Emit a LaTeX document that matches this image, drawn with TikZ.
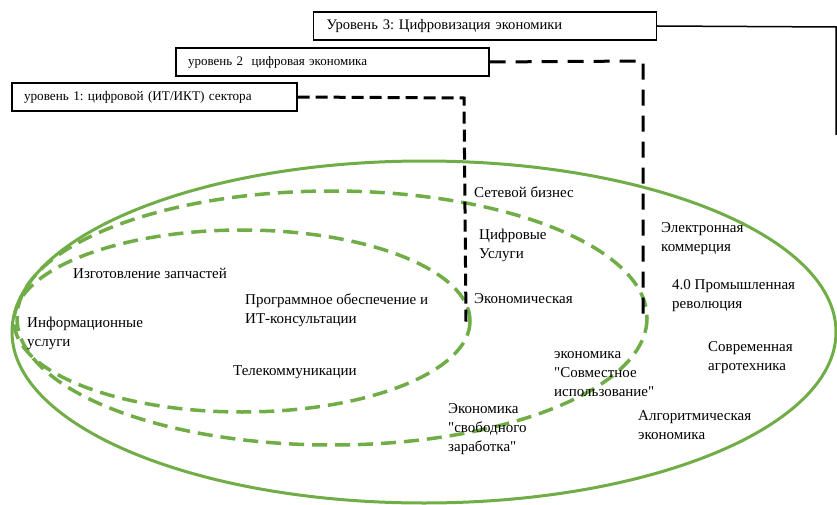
\documentclass[tikz,border=0pt]{standalone}
\usepackage{fontspec}
\setmainfont{Liberation Serif}[Ligatures=TeXOff]
\frenchspacing
\definecolor{vgreen}{RGB}{112,173,71}
\begin{document}
\begin{tikzpicture}[x=1pt,y=-1pt,
  lvlbox/.style={draw=black, line width=1.3pt, rectangle, minimum height=28pt, inner xsep=12pt, inner ysep=0pt, align=left},
  lbl/.style={anchor=west, align=left, inner sep=0pt, font=\fontsize{15}{19}\selectfont},
  gsolid/.style={draw=vgreen, line width=3pt},
  gdash/.style={draw=vgreen, line width=3.5pt, dash pattern=on 15pt off 8pt},
  kdashA/.style={draw=black, line width=3pt, dash pattern=on 12pt off 6pt},
  kdashB/.style={draw=black, line width=3pt, dash pattern=on 16pt off 10pt},
  ksolid/.style={draw=black, line width=1.5pt}
]
\useasboundingbox (0,0) rectangle (837,505);

% ellipses
\draw[gsolid] (424,332) ellipse [x radius=412, y radius=171];
\draw[gdash] (332,318) ellipse [x radius=315, y radius=127];
\draw[gdash] (242,321) ellipse [x radius=228, y radius=91];

% level boxes
\node[lvlbox, text width=317pt, inner xsep=13pt, font=\fontsize{14.6}{16}\selectfont] (b3) at (485,26) {Уровень 3: Цифровизация экономики};
\node[lvlbox, text width=289pt, font=\fontsize{13}{15}\selectfont] (b2) at (332.5,62) {уровень 2\ \ цифровая экономика};
\node[lvlbox, text width=261pt, font=\fontsize{13.2}{15}\selectfont] (b1) at (154.5,97) {уровень 1: цифровой (ИТ/ИКТ) сектора};

% connectors
\coordinate (c3a) at (836,27);
\coordinate (c3b) at (836,135);
\coordinate (c2a) at (643,61);
\coordinate (c2b) at (643,314);
\coordinate (c1a) at (464,98);
\coordinate (c1b) at (466,322);
\draw[ksolid] (b3.east) -- (c3a) -- (c3b);
\draw[kdashB] (b2.east) -- (c2a) -- (c2b);
\draw[kdashA] (b1.east) -- (c1a) -- (c1b);

% labels
\node[lbl] (t1) at (474,192) {Сетевой бизнес};
\node[lbl] (t2) at (479,245) {Цифровые\\Услуги};
\node[lbl] (t3) at (474,299) {Экономическая};
\node[lbl] (t4) at (661,239) {Электронная\\коммерция};
\node[lbl] (t5) at (672,296) {4.0 Промышленная\\революция};
\node[lbl] (t6) at (708,358) {Современная\\агротехника};
\node[lbl] (t7) at (638,425) {Алгоритмическая\\экономика};
\node[lbl] (t8) at (554,374) {экономика\\"Совместное\\использование"};
\node[lbl] (t9) at (448,429) {Экономика\\"свободного\\заработка"};
\node[lbl] (t10) at (233,372) {Телекоммуникации};
\node[lbl] (t11) at (245,310) {Программное обеспечение и\\ИТ-консультации};
\node[lbl] (t12) at (73,273) {Изготовление запчастей};
\node[lbl] (t13) at (27,333) {Информационные\\услуги};
\end{tikzpicture}
\end{document}
